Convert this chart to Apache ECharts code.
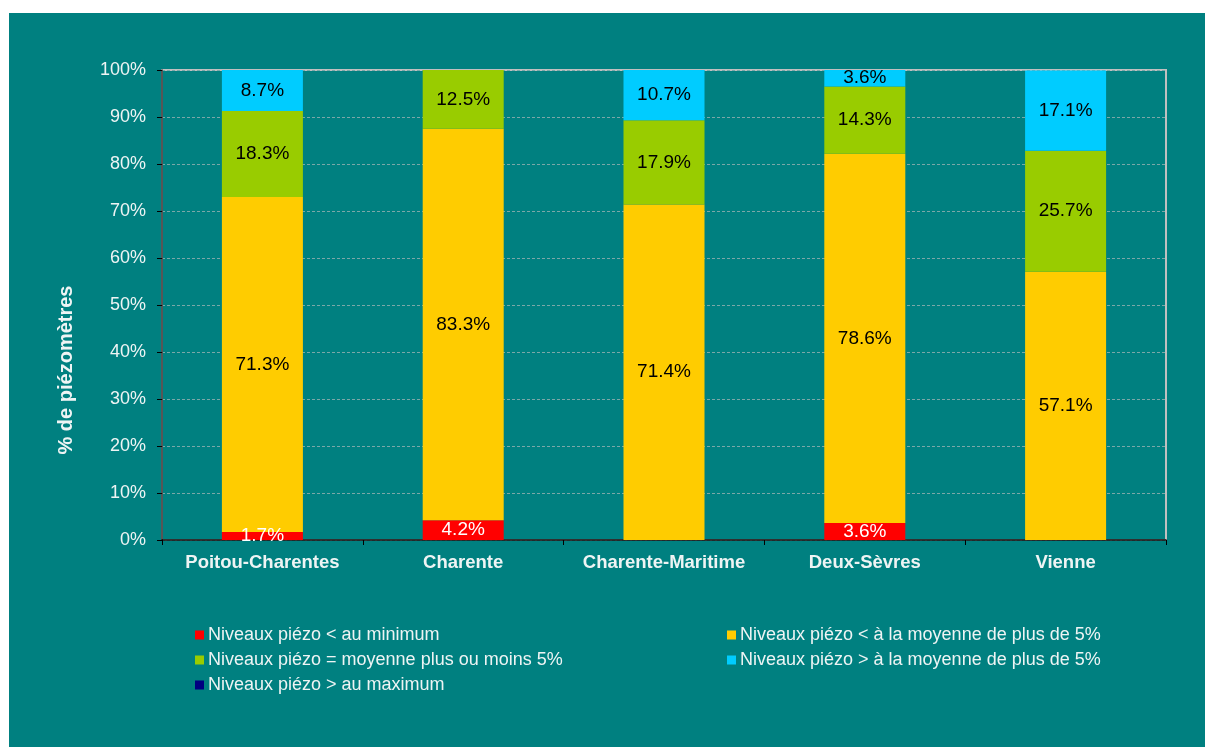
<!DOCTYPE html>
<html>
<head>
<meta charset="utf-8">
<script src="https://cdn.jsdelivr.net/npm/echarts@6/dist/echarts.min.js"></script>
<style>
  html, body { margin: 0; padding: 0; background: #fff; }
  #main { position: absolute; left: 9px; top: 13px; width: 1196px; height: 734px; background: #008080; }
</style>
</head>
<body>
<div id="main"></div>
<script>
// départements
const categories = ['Poitou-Charentes', 'Charente', 'Charente-Maritime', 'Deux-Sèvres', 'Vienne']
const seriesNames = [
  'Niveaux piézo < au minimum',
  'Niveaux piézo < à la moyenne de plus de 5%',
  'Niveaux piézo = moyenne plus ou moins 5%',
  'Niveaux piézo > à la moyenne de plus de 5%',
  'Niveaux piézo > au maximum'
]
const sousMinimum = [1.7, 4.2, 0, 3.6, 0]
const sousMoyenne = [71.3, 83.3, 71.4, 78.6, 57.1]
const autourMoyenne = [18.3, 12.5, 17.9, 14.3, 25.7]
const surMoyenne = [8.7, 0, 10.7, 3.6, 17.1]
const surMaximum = [0, 0, 0, 0, 0]
const yTicks = [0, 10, 20, 30, 40, 50, 60, 70, 80, 90, 100]

const values = [sousMinimum, sousMoyenne, autourMoyenne, surMoyenne, surMaximum]
const colors = ['#ff0000', '#ffcc00', '#99cc00', '#00ccff', '#000080']
const labelColors = ['#ffffff', '#000000', '#000000', '#000000', '#000000']
const txt = '#eef4f4'
const font = 'Arial, "Liberation Sans", sans-serif'

let myChart = echarts.init(document.getElementById('main'))
let legendText = { color: txt, fontSize: 18, fontFamily: font, padding: [0, 0, 0, -1] }
let option = {
  animation: false,
  textStyle: { fontFamily: font },
  grid: {
    left: 153,
    top: 57,
    right: 39,
    bottom: 207,
    show: true,
    borderColor: '#c0c0c0',
    borderWidth: 2
  },
  // titre de l'axe vertical (placé un peu sous le centre, comme l'original)
  graphic: [{
    type: 'text',
    x: 57,
    y: 357,
    rotation: Math.PI / 2,
    style: {
      text: '% de piézomètres',
      fill: txt,
      font: 'bold 20px ' + font,
      textAlign: 'center',
      textVerticalAlign: 'middle'
    }
  }],
  legend: [{
    left: 181,
    top: 608,
    orient: 'vertical',
    icon: 'rect',
    itemWidth: 9,
    itemHeight: 9,
    itemGap: 7,
    textStyle: legendText,
    data: [seriesNames[0], seriesNames[2], seriesNames[4]]
  }, {
    left: 713,
    top: 608,
    orient: 'vertical',
    icon: 'rect',
    itemWidth: 9,
    itemHeight: 9,
    itemGap: 7,
    textStyle: legendText,
    data: [seriesNames[1], seriesNames[3]]
  }],
  xAxis: {
    type: 'category',
    data: categories,
    axisLine: { lineStyle: { color: '#000', width: 1.5 } },
    axisTick: { show: true, interval: 0, length: 5, lineStyle: { color: '#000' } },
    axisLabel: { interval: 0, hideOverlap: false, color: txt, fontSize: 18.5, fontWeight: 'bold', margin: 13 }
  },
  yAxis: {
    type: 'value',
    min: yTicks[0],
    max: yTicks[yTicks.length - 1],
    interval: 10,
    axisLine: { show: true, lineStyle: { color: '#333', width: 1.5 } },
    axisTick: { show: true, length: 5, lineStyle: { color: '#000' } },
    axisLabel: { color: txt, fontSize: 18, margin: 16, formatter: '{value}%' },
    splitLine: { lineStyle: { color: '#7aa8a8', type: [3, 2], width: 1 } }
  },
  series: values.map(function (data, i) {
    return {
      name: seriesNames[i],
      type: 'bar',
      stack: 'total',
      barWidth: 81,
      itemStyle: { color: colors[i] },
      label: {
        show: true,
        position: 'inside',
        color: labelColors[i],
        fontSize: 19,
        formatter: function (p) {
          return p.value > 0 ? p.value.toFixed(1) + '%' : ''
        }
      },
      data: data
    }
  })
}
myChart.setOption(option, true)
</script>
</body>
</html>
